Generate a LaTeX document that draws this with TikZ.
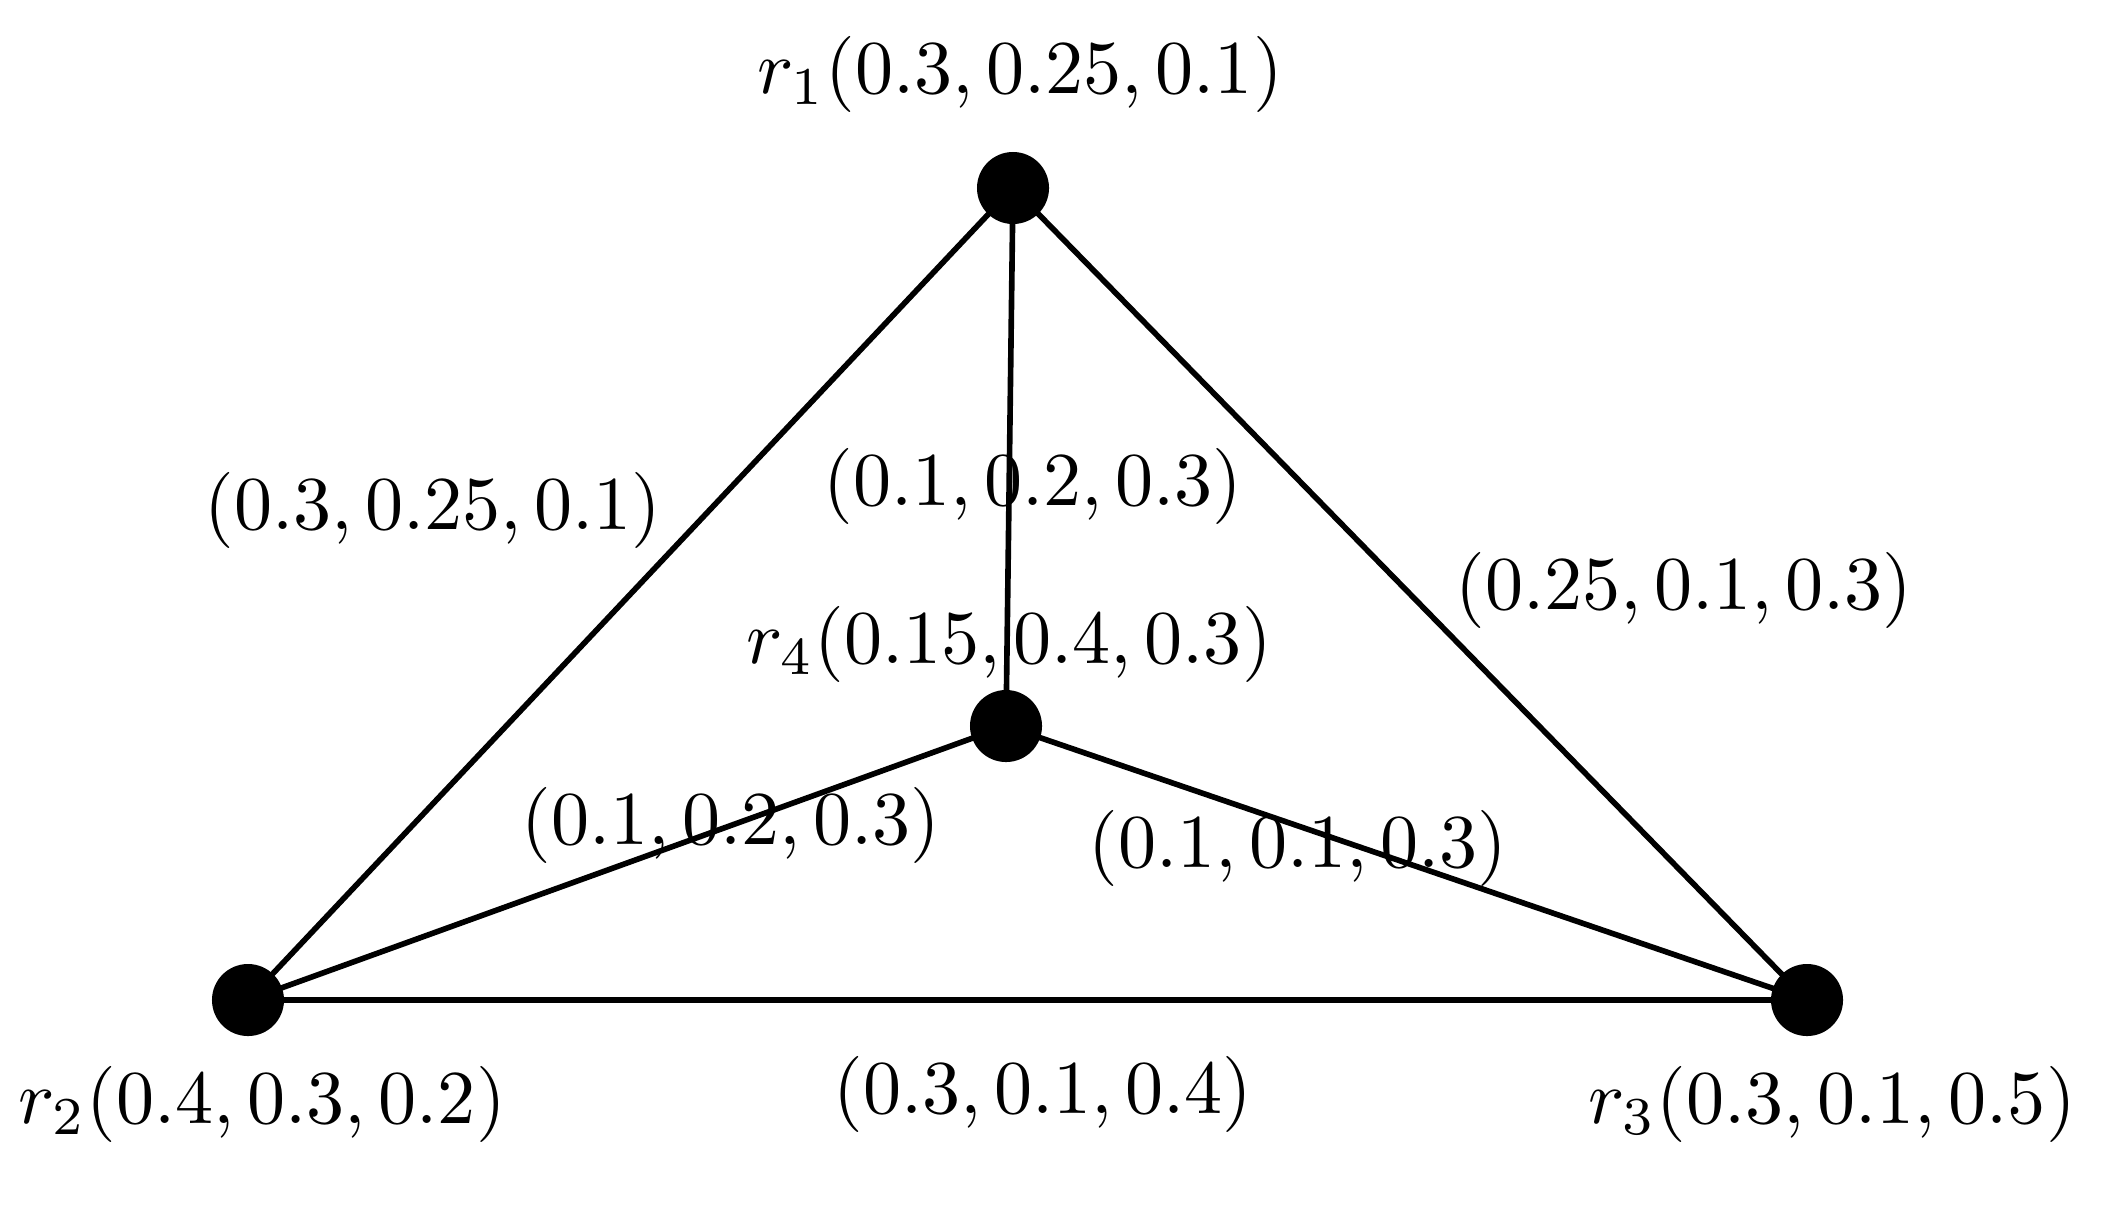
\documentclass[tikz,border=0pt]{standalone}
\begin{document}
\begin{tikzpicture}[x=0.01cm,y=-0.01cm,
  vert/.style={circle,fill=black,inner sep=0pt,minimum size=0.72cm},
  edge/.style={line width=1.6pt},
  lab/.style={inner sep=0pt,scale=2.165,font=\fontsize{10}{12}\selectfont}]
\useasboundingbox (0,0) rectangle (2104,1205);
\node[vert] (r1) at (1013,188) {};
\node[vert] (r2) at (248,1000) {};
\node[vert] (r3) at (1807,1000) {};
\node[vert] (r4) at (1006,726) {};
\draw[edge] (r1.center) -- (r2.center);
\draw[edge] (r1.center) -- (r3.center);
\draw[edge] (r1.center) -- (r4.center);
\draw[edge] (r2.center) -- (r3.center);
\draw[edge] (r2.center) -- (r4.center);
\draw[edge] (r3.center) -- (r4.center);
\node[lab] (l1) at (1020,74) {$r_1(0.3,0.25,0.1)$};
\node[lab] (l2) at (262,1104) {$r_2(0.4,0.3,0.2)$};
\node[lab] (l3) at (1832,1104) {$r_3(0.3,0.1,0.5)$};
\node[lab] (l4) at (1009,644) {$r_4(0.15,0.4,0.3)$};
\node[lab] (e12) at (433,510) {$(0.3,0.25,0.1)$};
\node[lab] (e14) at (1033,486) {$(0.1,0.2,0.3)$};
\node[lab] (e13) at (1684,590) {$(0.25,0.1,0.3)$};
\node[lab] (e24) at (731,825) {$(0.1,0.2,0.3)$};
\node[lab] (e34) at (1298,848) {$(0.1,0.1,0.3)$};
\node[lab] (e23) at (1043,1094) {$(0.3,0.1,0.4)$};
\end{tikzpicture}
\end{document}
